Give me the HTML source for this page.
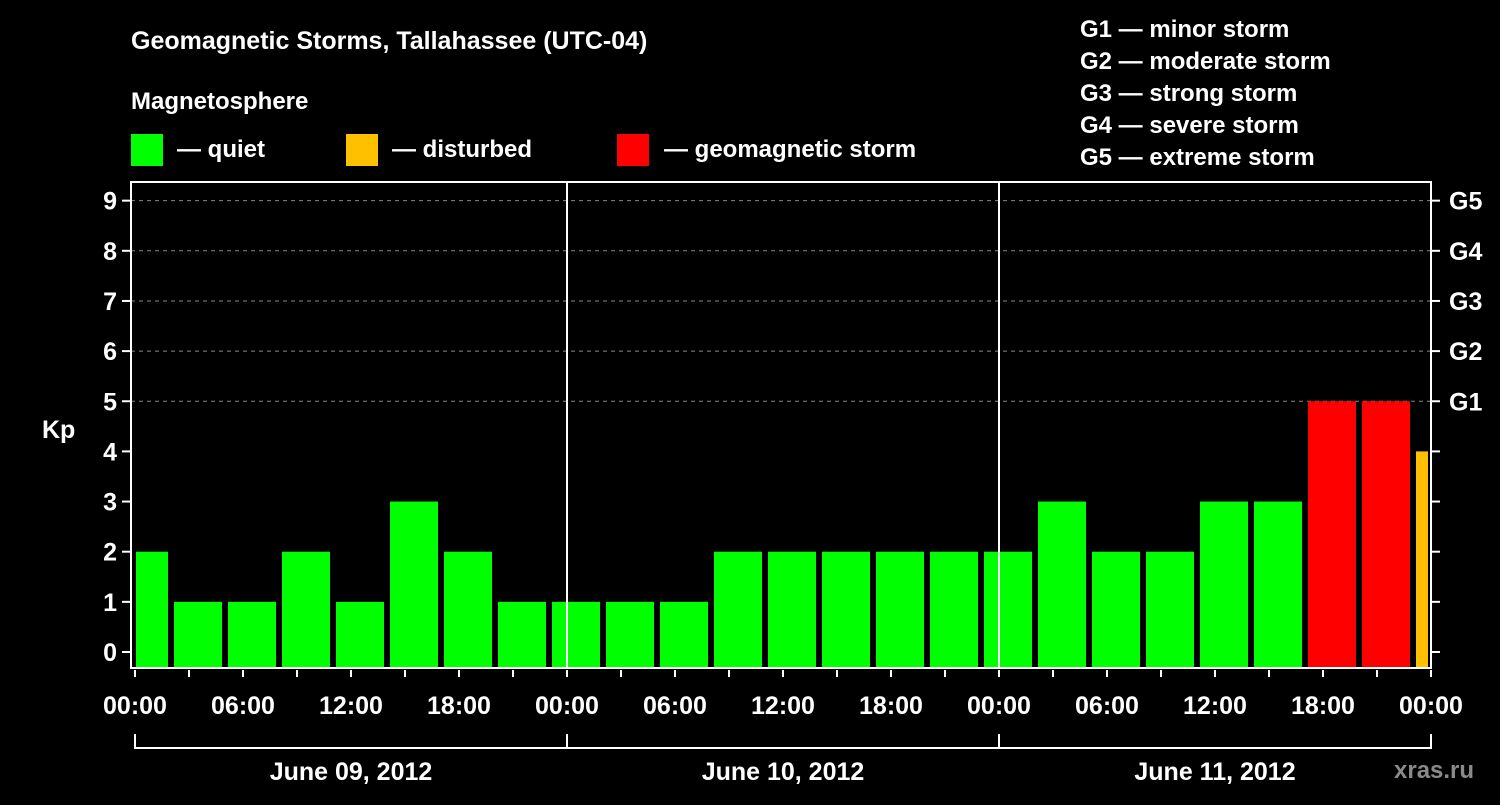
<!DOCTYPE html>
<html><head><meta charset="utf-8"><style>
html,body{margin:0;padding:0;background:#000;}
svg text{font-family:"Liberation Sans",Arial,sans-serif;font-weight:bold;fill:#fff;}
</style></head><body>
<svg id="chart" width="1500" height="800" viewBox="0 0 1500 800">
<text x="131" y="49" font-size="25">Geomagnetic Storms, Tallahassee (UTC-04)</text>
<text x="131" y="109" font-size="24">Magnetosphere</text>
<rect x="131" y="134" width="32" height="32" fill="#00ff00"/>
<text x="177" y="157" font-size="24">— quiet</text>
<rect x="346" y="134" width="32" height="32" fill="#ffc000"/>
<text x="392" y="157" font-size="24">— disturbed</text>
<rect x="617" y="134" width="32" height="32" fill="#ff0000"/>
<text x="664" y="157" font-size="24">— geomagnetic storm</text>
<g font-size="24">
<text x="1080" y="37">G1 — minor storm</text>
<text x="1080" y="69">G2 — moderate storm</text>
<text x="1080" y="101">G3 — strong storm</text>
<text x="1080" y="133">G4 — severe storm</text>
<text x="1080" y="165">G5 — extreme storm</text>
</g>
<text x="42" y="438" font-size="25">Kp</text>
<text x="1394" y="778" font-size="24" fill="#888" style="fill:#8a8a8a">xras.ru</text>
<g id="grid"></g><g id="bars"></g><g id="axes"></g>
</svg>
<script>
const kpValues=[2,1,1,2,1,3,2,1,1,1,1,2,2,2,2,2,2,3,2,2,3,3,5,5,4];
const firstBarHour=-1; // 23:00 of previous day, local time
const yTicks=[0,1,2,3,4,5,6,7,8,9];
const gLabels=["G1","G2","G3","G4","G5"];
const xTickLabels=["00:00","06:00","12:00","18:00"];
const dayLabels=["June 09, 2012","June 10, 2012","June 11, 2012"];
const NS="http://www.w3.org/2000/svg";
const L=131,R=1431,T=182,B=668,X0=135,PXH=18;
const x=h=>X0+h*PXH, y=v=>652-v*50.15;
function mk(p,tag,a){const e=document.createElementNS(NS,tag);for(const k in a)e.setAttribute(k,a[k]);p.appendChild(e);return e;}
const grid=document.getElementById('grid'),bars=document.getElementById('bars'),ax=document.getElementById('axes');
yTicks.filter(v=>v>=5).forEach(v=>{const l=mk(grid,'line',{x1:L,x2:R,y1:y(v),y2:y(v),stroke:'#888','stroke-dasharray':'4,4','stroke-width':1});

});
kpValues.forEach((v,i)=>{let s=x(firstBarHour+i*3)+3,e=x(firstBarHour+i*3+3)-3;s=Math.max(s,L+5);e=Math.min(e,R-3);
const c=v>=5?'#ff0000':(v>=4?'#ffc000':'#00ff00');
const r=mk(bars,'rect',{x:s,y:y(v),width:e-s,height:667-y(v),fill:c});

});
[0,1,2,3].forEach(d=>{if(d>0&&d<3){const l=mk(ax,'line',{x1:x(d*24),x2:x(d*24),y1:T,y2:B,stroke:'#fff','stroke-width':2});

}});
const fr=mk(ax,'rect',{x:L,y:T,width:R-L,height:B-T,fill:'none',stroke:'#fff','stroke-width':2});


yTicks.forEach(v=>{mk(ax,'line',{x1:L-9,x2:L,y1:y(v),y2:y(v),stroke:'#fff','stroke-width':2});
mk(ax,'line',{x1:R,x2:R+9,y1:y(v),y2:y(v),stroke:'#fff','stroke-width':2});
const t=mk(ax,'text',{x:L-14,y:y(v)+9,'font-size':25,'text-anchor':'end'});t.textContent=v;

});
gLabels.forEach((g,i)=>{const t=mk(ax,'text',{x:R+18,y:y(5+i)+9,'font-size':25});t.textContent=g;

});
for(let h=0;h<=72;h+=3){mk(ax,'line',{x1:x(h),x2:x(h),y1:B+2,y2:B+(h%6==0?9:9),stroke:'#fff','stroke-width':2});
if(h%6==0){const t=mk(ax,'text',{x:x(h),y:714,'font-size':25,'text-anchor':'middle'});t.textContent=xTickLabels[(h/6)%4];

}}
mk(ax,'line',{x1:x(0),x2:x(72),y1:748,y2:748,stroke:'#fff','stroke-width':2});
for(let d=0;d<=3;d++)mk(ax,'line',{x1:x(d*24),x2:x(d*24),y1:734,y2:749,stroke:'#fff','stroke-width':2});
dayLabels.forEach((s,d)=>{const t=mk(ax,'text',{x:x(d*24+12),y:780,'font-size':25,'text-anchor':'middle'});t.textContent=s;

});
</script>
</body></html>
